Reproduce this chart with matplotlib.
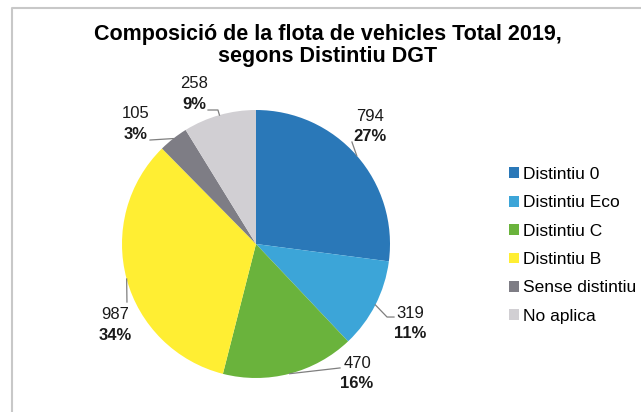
import numpy as np
import matplotlib.pyplot as plt
from matplotlib.patches import Patch
from matplotlib.lines import Line2D

plt.rcParams["font.family"] = ["Liberation Sans", "DejaVu Sans"]

# -- data ------------------------------------------------
categories = ["Distintiu 0", "Distintiu Eco", "Distintiu C", "Distintiu B",
              "Sense distintiu", "No aplica"]
values = [794, 319, 470, 987, 105, 258]
pct_labels = ["27%", "11%", "16%", "34%", "3%", "9%"]
title_lines = ["Composició de la flota de vehicles Total 2019,",
               "segons Distintiu DGT"]

# -- style ------------------------------------------------
COLORS = ["#2A78B8", "#3CA5D8", "#6AB33C", "#FFEE33", "#7E7D85", "#D1CFD3"]
LINE = "#7F7F7F"
BORDER = "#C8C8C8"
# label block centre, in pie-radius units
LABEL_POS = [(0.85, 0.877), (1.15, -0.593), (0.754, -0.966),
             (-1.052, -0.604), (-0.896, 0.896), (-0.463, 1.12)]
# leader line bends after the wedge edge point, in pie-radius units
LEADERS = [[(0.716, 0.761)],
           [(0.978, -0.545), (1.03, -0.545)],
           [(0.627, -0.925)],
           [(-0.963, -0.433)],
           [(-0.791, 0.776)],
           [(-0.284, 1.0), (-0.358, 1.0)]]

W, H = 641, 412
fig = plt.figure(figsize=(W / 100, H / 100), dpi=100)
fig.patch.set_facecolor("white")

# chart frame (only left and top visible)
fig.add_artist(Line2D([12 / W, 12 / W, 1], [0, 1 - 8 / H, 1 - 8 / H],
                      color=BORDER, lw=1.5, transform=fig.transFigure))

cx, cy, r = 256, 244, 134
ax = fig.add_axes([(cx - r) / W, (H - cy - r) / H, 2 * r / W, 2 * r / H])
wedges, _ = ax.pie(values, colors=COLORS, startangle=90, counterclock=False,
                   radius=1, wedgeprops=dict(linewidth=0))
ax.set_xlim(-1, 1)
ax.set_ylim(-1, 1)
ax.set_aspect("equal")
ax.axis("off")

for w, v, p, (lx, ly), bends in zip(wedges, values, pct_labels, LABEL_POS, LEADERS):
    mid = np.deg2rad((w.theta1 + w.theta2) / 2)
    pts = [(np.cos(mid), np.sin(mid))] + bends
    xs, ys = zip(*pts)
    ax.plot(xs, ys, color=LINE, lw=0.9, clip_on=False)
    ax.annotate(str(v), xy=(lx, ly), xytext=(0, 7.4), textcoords="offset points",
                ha="center", va="center", fontsize=12, color="#1a1a1a",
                annotation_clip=False)
    ax.annotate(p, xy=(lx, ly), xytext=(0, -7.4), textcoords="offset points",
                ha="center", va="center", fontsize=12, fontweight="bold",
                color="#1a1a1a", annotation_clip=False)

for line, base in zip(title_lines, [40, 62]):
    fig.text(328 / W, 1 - base / H, line, ha="center", va="baseline",
             fontsize=15.5, fontweight="bold")

handles = [Patch(facecolor=c, edgecolor="none") for c in COLORS]
fig.legend(handles, categories, loc="upper left",
           bbox_to_anchor=(509 / W, 1 - 167 / H), frameon=False, fontsize=12.5,
           handlelength=0.58, handleheight=0.58, handletextpad=0.2,
           labelspacing=0.77, borderpad=0, borderaxespad=0)

fig.savefig("out.png", dpi=100)
